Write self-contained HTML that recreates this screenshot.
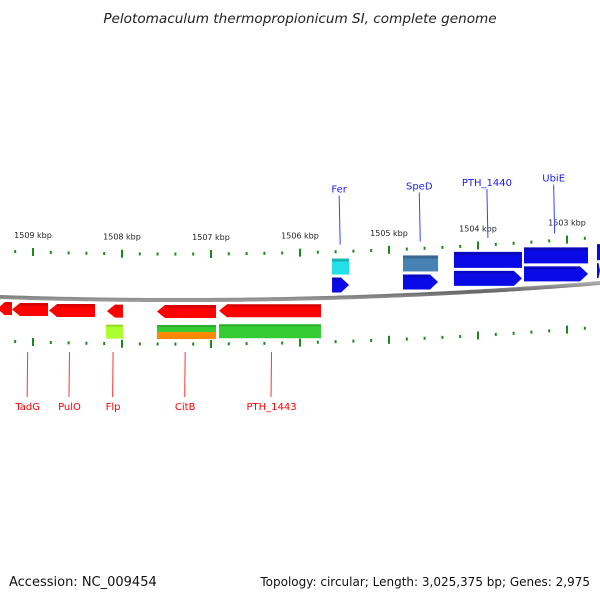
<!DOCTYPE html>
<html><head><meta charset="utf-8"><style>
html,body{margin:0;padding:0;background:#fff;}
svg{display:block;font-family:"DejaVu Sans","Liberation Sans",sans-serif;}
</style></head><body>
<svg id="c" width="600" height="600" viewBox="0 0 600 600">
<defs>
<linearGradient id="bb" x1="0" y1="0" x2="0" y2="1"><stop offset="0" stop-color="#aaa"/><stop offset="0.5" stop-color="#666"/><stop offset="1" stop-color="#999"/></linearGradient>
</defs>
<text x="300" y="23" text-anchor="middle" font-size="13.6" font-style="italic" fill="#222">Pelotomaculum thermopropionicum SI, complete genome</text>
<text x="9" y="586" font-size="13" fill="#111">Accession: NC_009454</text>
<text x="590" y="586" text-anchor="end" font-size="12" fill="#111">Topology: circular; Length: 3,025,375 bp; Genes: 2,975</text>
<g id="g"></g>
</svg>
<script>
// data
const kbpTicks = [1509, 1508, 1507, 1506, 1505, 1504, 1503];
const tickLabels = ["1509 kbp","1508 kbp","1507 kbp","1506 kbp","1505 kbp","1504 kbp","1503 kbp"];
// reverse-strand genes (red arrows), kbp start/end
const revStart = [1509.40, 1509.236, 1508.82, 1508.169, 1507.607, 1506.910];
const revEnd   = [1509.236, 1508.831, 1508.303, 1507.989, 1506.944, 1505.764];
// reverse-strand features (second row)
const revFStart = [1508.18, 1507.607, 1506.910];
const revFEnd   = [1507.989, 1506.944, 1505.764];
const revFColor = ["#adff2f", "split", "#33cc33"];
// forward-strand genes (blue arrows)
const fwdStart = [1505.640, 1504.843, 1504.270, 1503.483, 1502.663];
const fwdEnd   = [1505.449, 1504.449, 1503.506, 1502.764, 1502.40];
// forward features (upper row)
const fwdFStart = [1505.640, 1504.843, 1504.270, 1503.483, 1502.663];
const fwdFEnd   = [1505.449, 1504.449, 1503.506, 1502.764, 1502.40];
const fwdFColor = ["#22e0e8", "#4682b4", "#0a0ae6", "#0a0ae6", "#0a0ae6"];
// labels
const topNames = ["Fer","SpeD","PTH_1440","UbiE"];
const topPos = [1505.56, 1504.66, 1503.90, 1503.15];
const botNames = ["TadG","PulO","Flp","CitB","PTH_1443"];
const botPos = [1509.06, 1508.59, 1508.10, 1507.29, 1506.32];

const NS="http://www.w3.org/2000/svg";
const G=document.getElementById('g');
function X(k){return 33+(1509-k)*89;}
function Y(x){return -9.58e-5*x*x+0.0342*x+297;}
function mk(t,a,p){const e=document.createElementNS(NS,t);for(const k in a)e.setAttribute(k,a[k]);(p||G).appendChild(e);return e;}

// backbone
let d="M0 "+Y(0);
for(let x=5;x<=600;x+=5)d+=" L"+x+" "+Y(x).toFixed(2);
const bb=mk('path',{d:d,stroke:'url(#bb)','stroke-width':4,fill:'none'});



// ticks
for(let i=0;i<=40;i++){
  const k=1509.4-i*0.2;
  const kr=Math.round(k*5)/5;
  const x=X(kr); if(x<0||x>600)continue;
  const major=Math.abs(kr-Math.round(kr))<0.01;
  const h=major?8:3;
  for(const off of [-46,44]){
    const yc=Y(x)+off;
    const t=mk('rect',{x:x-1,y:yc-h/2,width:2,height:h,fill:'#1a8a1a'});
    
    
  }
}
kbpTicks.forEach((k,i)=>{
  const x=X(k);
  const t=mk('text',{x:x,y:Y(x)-60,'text-anchor':'middle','font-size':'8',fill:'#222'});
  t.textContent=tickLabels[i];
  
  
});

function arrow(x1,x2,y,h,dir,fill,name){
  const L=Math.min(x1,x2),R=Math.max(x1,x2);const hd=Math.min(8,(R-L)*0.5);
  let pts;
  if(dir<0)pts=[[L,y+h/2],[L+hd,y],[R,y],[R,y+h],[L+hd,y+h]];
  else pts=[[L,y],[R-hd,y],[R,y+h/2],[R-hd,y+h],[L,y+h]];
  const p=mk('polygon',{points:pts.map(q=>q.join(',')).join(' '),fill:fill});
  
  
  mk('rect',{x:L+(dir<0?hd:0),y:y,width:R-L-hd,height:3,fill:'rgba(0,0,0,0.15)'});
}
revStart.forEach((s,i)=>{
  const x1=X(s),x2=X(revEnd[i]);const xm=(x1+x2)/2;
  arrow(x1,x2,Y(xm)+5,13,-1,'#ff0000','reverse-gene');
});
revFStart.forEach((s,i)=>{
  const x1=X(s),x2=X(revFEnd[i]);const xm=(x1+x2)/2;const y=Y(xm)+25;
  if(revFColor[i]==='split'){
    let r=mk('rect',{x:x1,y:y,width:x2-x1,height:7,fill:'#33cc33'});
    
    r=mk('rect',{x:x1,y:y+7,width:x2-x1,height:7,fill:'#ff8800'});
    
  }else{
    const r=mk('rect',{x:x1,y:y,width:x2-x1,height:14,fill:revFColor[i]});
    
    
  }
  mk('rect',{x:x1,y:y,width:x2-x1,height:2,fill:'rgba(0,0,0,0.15)'});
});
fwdStart.forEach((s,i)=>{
  const x1=X(s),x2=Math.min(600,X(fwdEnd[i]));const xm=(x1+x2)/2;
  arrow(x1,x2,Y(xm)-20,15,1,'#0a0ae6','forward-gene');
});
fwdFStart.forEach((s,i)=>{
  const x1=X(s),x2=Math.min(600,X(fwdFEnd[i]));const xm=(x1+x2)/2;
  const r=mk('rect',{x:x1,y:Y(xm)-39,width:x2-x1,height:16,fill:fwdFColor[i]});
  
  
  mk('rect',{x:x1,y:Y(xm)-39,width:x2-x1,height:3,fill:'rgba(0,0,0,0.2)'});
});
topNames.forEach((n,i)=>{
  const x=X(topPos[i]);const yb=Y(x)-53;const yt=yb-49;
  const l=mk('line',{x1:x,y1:yt,x2:x+1,y2:yb,stroke:'#3344ff','stroke-width':1});
  
  const t=mk('text',{x:x,y:yt-3,'text-anchor':'middle','font-size':'10',fill:'#1a1aff'});
  t.textContent=n;
  
  
});
botNames.forEach((n,i)=>{
  const x=X(botPos[i]);
  const l=mk('line',{x1:x,y1:352,x2:x-0.5,y2:397,stroke:'#ff3333','stroke-width':1});
  
  const t=mk('text',{x:x,y:410,'text-anchor':'middle','font-size':'10',fill:'#ff0000'});
  t.textContent=n;
  
  
});
</script>
</body></html>
